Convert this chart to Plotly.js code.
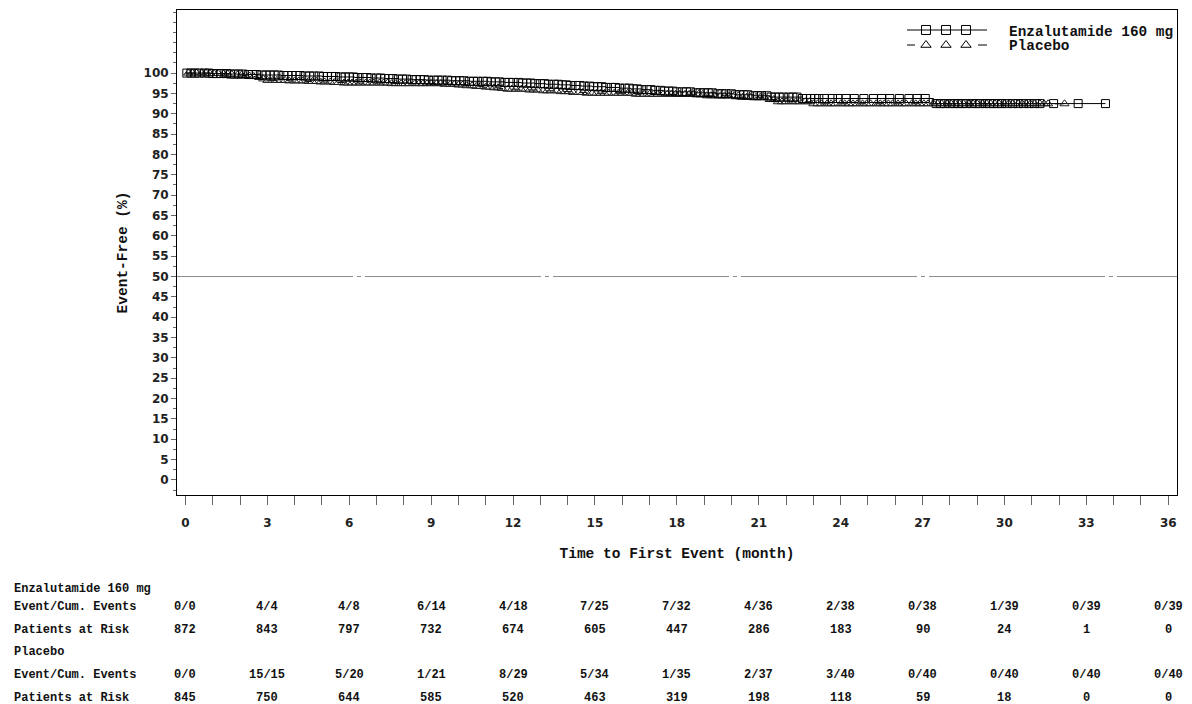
<!DOCTYPE html>
<html>
<head>
<meta charset="utf-8">
<script src="https://cdn.plot.ly/plotly-3.0.1.min.js"></script>
<style>html,body{margin:0;padding:0;background:#fff;}#chart{width:1192px;height:704px;}</style>
</head>
<body>
<div id="chart"></div>
<script>
// ---- data ----
const tableMonths = [0,3,6,9,12,15,18,21,24,27,30,33,36];
const enzEvents = ['0/0','4/4','4/8','6/14','4/18','7/25','7/32','4/36','2/38','0/38','1/39','0/39','0/39'];
const enzRisk = [872,843,797,732,674,605,447,286,183,90,24,1,0];
const pboEvents = ['0/0','15/15','5/20','1/21','8/29','5/34','1/35','2/37','3/40','0/40','0/40','0/40','0/40'];
const pboRisk = [845,750,644,585,520,463,319,198,118,59,18,0,0];

const enzEventTimes = [1.0,1.6,2.2,2.7, 3.5,4.3,5.0,5.6, 6.2,6.8,7.3,7.8,8.3,8.8, 9.7,10.4,11.1,11.7,
  12.3,12.8,13.2,13.7,14.1,14.5,14.9, 15.4,15.9,16.3,16.7,17.1,17.5,17.9, 18.7,19.4,20.1,20.8, 21.4,22.6, 27.4];
const enzSurv = [99.88,99.76,99.64,99.52, 99.40,99.28,99.16,99.04, 98.91,98.78,98.65,98.52,98.39,98.26,
  98.12,97.98,97.84,97.70, 97.55,97.40,97.25,97.10,96.95,96.80,96.65, 96.47,96.29,96.11,95.93,95.75,95.57,95.39,
  95.15,94.91,94.67,94.43, 94.10,93.75, 92.50];
const enzCensor = [0.05,0.2,0.35,0.5,0.7,0.85,1.0,1.15,1.3,1.5,1.65,1.8,1.95,2.1,2.3,2.45,2.6,2.8,2.95,3.1,3.25,3.4,
  3.6,3.75,3.9,4.05,4.2,4.4,4.55,4.7,4.9,5.05,5.2,5.35,5.5,5.7,5.85,6.0,6.15,6.3,6.5,6.65,6.8,7.0,7.15,7.3,7.45,7.6,
  7.8,7.95,8.1,8.3,8.45,8.6,8.75,8.9,9.1,9.25,9.4,9.6,9.75,9.9,10.05,10.2,10.4,10.55,10.7,10.9,11.05,11.2,11.35,11.5,
  11.7,11.85,12.0,12.2,12.35,12.5,12.65,12.8,13.0,13.15,13.3,13.5,13.65,13.8,13.95,14.1,14.3,14.45,14.6,14.8,14.95,
  15.1,15.25,15.4,15.6,15.75,15.9,16.1,16.25,16.4,16.55,16.7,16.9,17.05,17.2,17.4,17.55,17.7,17.85,18.0,18.2,18.35,
  18.5,18.7,18.85,19.0,19.15,19.3,19.5,19.65,19.8,20.0,20.15,20.3,20.45,20.6,20.8,20.95,21.1,21.3,21.45,21.6,21.75,
  21.9,22.1,22.25,22.4,22.6,22.75,22.9,23.05,23.2,23.4,23.7,23.9,24.2,24.5,24.85,25.2,25.5,25.8,26.15,26.5,26.8,27.1,
  27.5,27.65,27.8,28.0,28.15,28.3,28.45,28.6,28.8,28.95,29.1,29.3,29.45,29.6,29.75,29.9,30.1,30.3,30.5,30.7,30.9,
  31.1,31.3,31.8,32.7,33.7];

const pboEventTimes = [0.9,1.3,1.6,1.9,2.1,2.3,2.45,2.55,2.65,2.72,2.78,2.84,2.9,2.95,2.99,
  3.8,4.4,4.9,5.4,5.8, 7.5, 9.5,9.9,10.2,10.6,10.9,11.2,11.5,11.8, 12.5,13.1,13.7,14.2,14.7, 16.5, 19.0,20.3, 21.3,21.6,22.9];
const pboSurv = [99.88,99.76,99.64,99.52,99.40,99.28,99.16,99.04,98.92,98.80,98.68,98.56,98.44,98.32,98.20,
  98.07,97.94,97.81,97.68,97.55, 97.40, 97.23,97.06,96.89,96.72,96.55,96.38,96.21,96.04,
  95.84,95.64,95.44,95.24,95.04, 94.79, 94.42,94.05, 93.50,92.95,92.45];
const pboCensor = [0.1,0.25,0.4,0.6,0.75,0.9,1.05,1.2,1.4,1.55,1.7,1.9,2.05,2.2,2.35,2.5,2.7,2.85,3.0,3.2,3.35,3.5,
  3.65,3.8,4.0,4.15,4.3,4.5,4.65,4.8,4.95,5.1,5.3,5.45,5.6,5.8,5.95,6.1,6.25,6.4,6.6,6.75,6.9,7.1,7.25,7.4,7.55,7.7,
  7.9,8.05,8.2,8.4,8.55,8.7,8.85,9.0,9.2,9.35,9.5,9.7,9.85,10.0,10.15,10.3,10.5,10.65,10.8,11.0,11.15,11.3,11.45,11.6,
  11.8,11.95,12.1,12.3,12.45,12.6,12.75,12.9,13.1,13.25,13.4,13.6,13.75,13.9,14.05,14.2,14.4,14.55,14.7,14.9,15.05,
  15.2,15.35,15.5,15.7,15.85,16.0,16.2,16.35,16.5,16.65,16.8,17.0,17.15,17.3,17.5,17.65,17.8,17.95,18.1,18.3,18.45,
  18.6,18.8,18.95,19.1,19.25,19.4,19.6,19.75,19.9,20.1,20.25,20.4,20.55,20.7,20.9,21.05,21.2,21.4,21.55,21.7,21.85,
  22.0,22.2,22.35,22.5,22.7,22.85,23.0,23.15,23.3,23.5,23.65,23.8,24.0,24.15,24.3,24.45,24.6,24.8,24.95,25.1,25.3,
  25.45,25.6,25.75,25.9,26.1,26.25,26.4,26.6,26.75,26.9,27.05,27.2,27.4,27.55,27.7,27.9,28.05,28.2,28.35,28.5,28.7,
  28.85,29.0,29.2,29.35,29.5,29.65,29.8,30.0,30.15,30.3,30.5,30.65,30.8,30.95,31.1,31.3,31.45,31.6,32.2];

// ---- helpers ----
function survAt(times, surv, t){ let s = 100; for (let i=0;i<times.length;i++){ if (times[i] <= t) s = surv[i]; } return s; }
function stepTrace(times, surv, lastT, dash){
  const xs=[0].concat(times, [lastT]);
  const ys=[100].concat(surv, [surv[surv.length-1]]);
  return {x:xs,y:ys,mode:'lines',line:{shape:'hv',color:'#000',width:1,dash:dash},hoverinfo:'skip',showlegend:false};
}
function censorTrace(times, surv, cens, symbol, col){
  return {x:cens,y:cens.map(t=>survAt(times,surv,t)),mode:'markers',
    marker:{symbol:symbol,size:8,color:col,line:{width:1,color:col}},hoverinfo:'skip',showlegend:false};
}

const traces = [
  stepTrace(pboEventTimes,pboSurv,pboCensor[pboCensor.length-1],'dash'),
  stepTrace(enzEventTimes,enzSurv,enzCensor[enzCensor.length-1],'solid'),
  censorTrace(pboEventTimes,pboSurv,pboCensor,'triangle-up-open','#222'),
  censorTrace(enzEventTimes,enzSurv,enzCensor,'square-open','#000'),
  // legend samples on overlay axes
  {x:[0.749,0.769,0.789],y:[0.9588,0.9588,0.9588],xaxis:'x2',yaxis:'y2',mode:'markers',
   marker:{symbol:'square-open',size:9,color:'#000',line:{width:1}},hoverinfo:'skip',showlegend:false},
  {x:[0.749,0.769,0.789],y:[0.9278,0.9278,0.9278],xaxis:'x2',yaxis:'y2',mode:'markers',
   marker:{symbol:'triangle-up-open',size:9,color:'#000',line:{width:1}},hoverinfo:'skip',showlegend:false}
];

// ---- layout ----
const mono = 'Liberation Mono, Courier New, monospace';
const PLOT_L=177, PLOT_B=495, PLOT_W=1000, PLOT_H=485;
const px2x = p => (p-PLOT_L)/PLOT_W;
const py2y = p => (PLOT_B-p)/PLOT_H;

const annotations = [];
const rowLabels = [
  ['Enzalutamide 160 mg',589,null],
  ['Event/Cum. Events',607,enzEvents],
  ['Patients at Risk',630,enzRisk],
  ['Placebo',652,null],
  ['Event/Cum. Events',675,pboEvents],
  ['Patients at Risk',698,pboRisk]
];
rowLabels.forEach(([lab,py,vals])=>{
  annotations.push({text:lab,xref:'paper',yref:'paper',x:px2x(12),y:py2y(py),xanchor:'left',yanchor:'middle',
    showarrow:false,font:{family:mono,size:12,color:'#111',weight:'bold'}});
  if(vals){ vals.forEach((v,i)=>annotations.push({text:String(v),xref:'x',yref:'paper',x:tableMonths[i],y:py2y(py),
    xanchor:'center',yanchor:'middle',showarrow:false,font:{family:mono,size:12,color:'#111',weight:'bold'}})); }
});
annotations.push({text:'Enzalutamide 160 mg',xref:'paper',yref:'paper',x:px2x(1007),y:py2y(32),xanchor:'left',yanchor:'middle',
  showarrow:false,font:{family:mono,size:14.4,color:'#111',weight:'bold'}});
annotations.push({text:'Placebo',xref:'paper',yref:'paper',x:px2x(1007),y:py2y(46),xanchor:'left',yanchor:'middle',
  showarrow:false,font:{family:mono,size:14.4,color:'#111',weight:'bold'}});

const shapes = [
  {type:'line',xref:'paper',yref:'y',x0:0,x1:1,y0:50,y1:50,line:{color:'#8c8c8c',width:1,dash:'176px,4px,4px,4px'}},
  {type:'line',xref:'paper',yref:'paper',x0:px2x(907),x1:px2x(987),y0:py2y(30),y1:py2y(30),line:{color:'#000',width:1}},
  {type:'line',xref:'paper',yref:'paper',x0:px2x(907),x1:px2x(915),y0:py2y(45),y1:py2y(45),line:{color:'#000',width:1}},
  {type:'line',xref:'paper',yref:'paper',x0:px2x(978),x1:px2x(987),y0:py2y(45),y1:py2y(45),line:{color:'#000',width:1}}
];

const layout = {
  width:1192,height:704,
  margin:{l:PLOT_L,r:1192-PLOT_L-PLOT_W,t:PLOT_B-PLOT_H,b:704-PLOT_B,pad:0},
  paper_bgcolor:'#fff',plot_bgcolor:'#fff',showlegend:false,
  xaxis:{range:[-0.31,36.32],tickmode:'array',tickvals:tableMonths,ticktext:tableMonths.map(String),
    ticks:'outside',ticklen:9,tickcolor:'#666',tickwidth:1,ticklabelstandoff:8,
    minor:{dtick:1,ticks:'outside',ticklen:9,tickcolor:'#666'},
    showline:true,linecolor:'#000',linewidth:1,mirror:true,showgrid:false,zeroline:false,
    tickfont:{family:'DejaVu Sans',size:12,color:'#222',weight:'bold'},
    title:{text:'Time to First Event (month)',standoff:18,font:{family:mono,size:14.5,color:'#111',weight:'bold'}}},
  yaxis:{range:[-3.69,115.5],tickmode:'array',tickvals:[0,5,10,15,20,25,30,35,40,45,50,55,60,65,70,75,80,85,90,95,100],
    ticks:'outside',ticklen:5,tickcolor:'#666',tickwidth:1,
    minor:{dtick:2.5,ticks:'outside',ticklen:3,tickcolor:'#666'},
    showline:true,linecolor:'#000',linewidth:1,mirror:true,showgrid:false,zeroline:false,
    tickfont:{family:'DejaVu Sans',size:12,color:'#222',weight:'bold'},
    title:{text:'Event-Free (%)',standoff:12,font:{family:mono,size:14.5,color:'#111',weight:'bold'}}},
  xaxis2:{overlaying:'x',range:[0,1],visible:false,fixedrange:true},
  yaxis2:{overlaying:'y',range:[0,1],visible:false,fixedrange:true},
  annotations:annotations,shapes:shapes
};
Plotly.newPlot('chart',traces,layout,{staticPlot:true,displayModeBar:false});
</script>
</body>
</html>
